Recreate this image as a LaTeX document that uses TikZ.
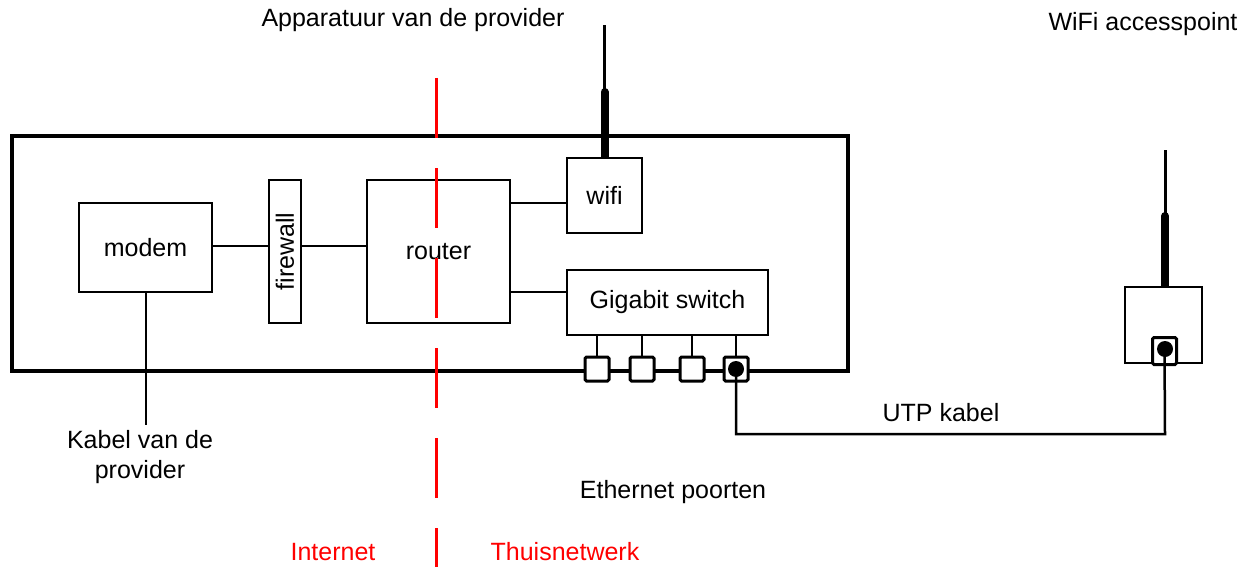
\documentclass[tikz,border=0pt]{standalone}
\usepackage{fontspec}
\setmainfont{Liberation Sans}
\begin{document}
\begin{tikzpicture}[x=1pt,y=-1pt,
  lbl/.style={font=\fontsize{25}{30}\selectfont, align=center, inner sep=0pt},
  blk/.style={draw, line width=2pt, inner sep=0pt, font=\fontsize{25}{30}\selectfont},
  wire/.style={line width=2pt},
  port/.style={draw, line width=3pt, fill=white, rounded corners=1.5pt, minimum width=24pt, minimum height=24pt, inner sep=0pt},
  divider/.style={red, line width=3pt, dash pattern=on 60pt off 30pt},
  ant/.style={line width=8pt, line cap=round},
  antthin/.style={line width=3pt}]
\useasboundingbox (0,0) rectangle (1247,567);
% outer housing
\node[draw, line width=3.5pt, minimum width=836pt, minimum height=235pt, inner sep=0pt] (box) at (430,253.5) {};
% blocks
\node[blk, minimum width=133pt, minimum height=89pt] (modem) at (145.5,247.5) {modem};
\node[blk, minimum width=32pt, minimum height=143pt] (fw) at (285,251.5) {\rotatebox{90}{firewall}};
\node[blk, minimum width=143pt, minimum height=143pt] (router) at (438.5,251.5) {router};
\node[blk, minimum width=75pt, minimum height=75pt] (wifi) at (604.5,195.5) {wifi};
\node[blk, minimum width=201pt, minimum height=65pt] (sw) at (667.5,302.5) {Gigabit switch};
% wires
\draw[wire] (modem.east |- 0,246) -- (fw.west |- 0,246);
\draw[wire] (fw.east |- 0,246) -- (router.west |- 0,246);
\draw[wire] (router.east |- 0,203) -- (wifi.west |- 0,203);
\draw[wire] (router.east |- 0,292) -- (sw.west |- 0,292);
% ports
\node[port] (p1) at (597,369) {};
\node[port] (p2) at (642,369) {};
\node[port] (p3) at (692,369) {};
\node[port] (p4) at (736,369) {};
\fill (p4.center) circle (8pt);
\foreach \p in {p1,p2,p3,p4} \draw[wire] (sw.south -| \p.north) -- (\p.north);
% modem cable
\coordinate (cabend) at (145.5,425);
\draw[wire] (modem.south) -- (cabend);
% wifi antenna
\coordinate (wa1) at (604.5,92);
\coordinate (wa2) at (604.5,25);
\draw[antthin] (wa1) -- (wa2);
\draw[line width=8pt] (wifi.north) -- ++(0,-20);
\draw[ant] (wifi.north) ++(0,-20) -- (wa1);
% access point
\node[draw, line width=2pt, minimum width=77pt, minimum height=76pt, inner sep=0pt] (ap) at (1163.5,325) {};
\node[port, minimum width=24pt, minimum height=27pt] (app) at (1164.5,351) {};
\fill (1165,349) circle (8pt);
\coordinate (aa1) at (1165,216);
\coordinate (aa2) at (1165,150);
\draw[antthin] (aa1) -- (aa2);
\draw[line width=8pt] (ap.north -| aa1) -- ++(0,-20);
\draw[ant] (ap.north -| aa1) ++(0,-20) -- (aa1);
% UTP cable
\coordinate (c1) at (736,434);
\coordinate (c2) at (1165,434);
\draw[wire, line width=2.5pt] (p4.center) -- (c1) -- (c2) -- (app.center);
% divider
\coordinate (d1) at (436,78);
\coordinate (d2) at (436,567);
\draw[divider] (d1) -- (d2);
% labels
\node[lbl] (t1) at (413,20) {Apparatuur van de provider};
\node[lbl] (t2) at (1143,24) {WiFi accesspoint};
\node[lbl] (t3) at (140,457) {Kabel van de\\provider};
\node[lbl] (t4) at (941,413) {UTP kabel};
\node[lbl] (t5) at (673,492) {Ethernet poorten};
\node[lbl, text=red] (t6) at (333,552) {Internet};
\node[lbl, text=red] (t7) at (565,552) {Thuisnetwerk};
\end{tikzpicture}
\end{document}
